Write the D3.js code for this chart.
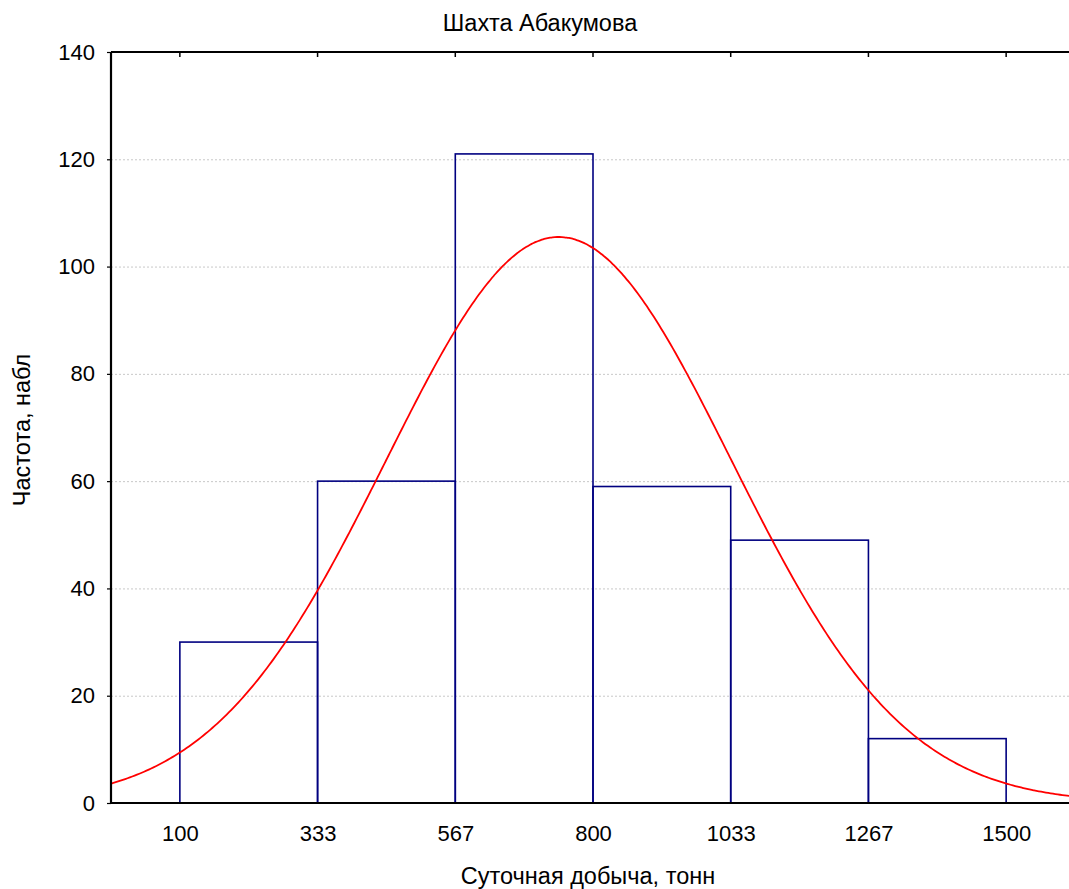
<!DOCTYPE html>
<html><head><meta charset="utf-8">
<script src="https://cdn.jsdelivr.net/npm/d3@7"></script>
<style>body{margin:0;background:#fff}svg{display:block}text{font-family:"Liberation Sans",Arial,sans-serif;fill:#000}</style>
</head><body><svg id="c" width="1069" height="889"></svg>
<script>
const binStarts = [100, 333.33, 566.67, 800, 1033.33, 1266.67];
const binEnds   = [333.33, 566.67, 800, 1033.33, 1266.67, 1500];
const counts    = [30, 60, 121, 59, 49, 12];
const xTicks    = [100, 333.33, 566.67, 800, 1033.33, 1266.67, 1500];
const xTickLabels = ["100", "333", "567", "800", "1033", "1267", "1500"];
const yTicks    = [0, 20, 40, 60, 80, 100, 120, 140];
const fitMean = 742, fitSigma = 292;
const title = "Шахта Абакумова", xTitle = "Суточная добыча, тонн", yTitle = "Частота, набл";

const FS = "22px", FT = "23.5px";
const svg = d3.select("#c");
const L = 111, T = 52, B = 803, R = 1075;
const x = d3.scaleLinear().domain([-16.67, 1616.67]).range([L, R]);
const y = d3.scaleLinear().domain([0, 140]).range([B, T]);

// grid
svg.append("g").selectAll("line").data(yTicks.filter(v => v > 0 && v < 140)).join("line")
  .attr("x1", L).attr("x2", 1069).attr("y1", d => y(d) + 0.5).attr("y2", d => y(d) + 0.5)
  .attr("stroke", "#c8c8c8").attr("stroke-width", 1).attr("stroke-dasharray", "2,2");

// bars
const N = d3.sum(counts);
const bw = binEnds[0] - binStarts[0];
svg.append("g").selectAll("rect").data(counts).join("rect")
  .attr("x", (d, i) => x(binStarts[i])).attr("y", d => y(d))
  .attr("width", (d, i) => x(binEnds[i]) - x(binStarts[i])).attr("height", d => y(0) - y(d))
  .attr("fill", "none").attr("stroke", "#000080").attr("stroke-width", 1.6);

// normal fit curve
const xs = d3.range(-16.67, 1616.67, 4);
const pdf = v => N * bw * Math.exp(-0.5 * ((v - fitMean) / fitSigma) ** 2) / (fitSigma * Math.sqrt(2 * Math.PI));
svg.append("path").datum(xs).attr("fill", "none").attr("stroke", "#ff0000").attr("stroke-width", 1.8)
  .attr("d", d3.line().x(d => x(d)).y(d => y(pdf(d))).curve(d3.curveBasis));

// axes
const ax = svg.append("g").attr("transform", `translate(0,${B})`)
  .call(d3.axisBottom(x).tickValues(xTicks).tickFormat((d, i) => xTickLabels[i]).tickSize(0).tickPadding(22));
ax.select(".domain").attr("stroke", "#000").attr("stroke-width", 2.2).attr("d", `M${L},0H1069`);
ax.selectAll("text").style("font-size", FS).style("font-family", '"Liberation Sans",Arial,sans-serif');

const ay = svg.append("g").attr("transform", `translate(${L},0)`)
  .call(d3.axisLeft(y).tickValues(yTicks).tickSize(4).tickPadding(12));
ay.select(".domain").attr("stroke", "#000").attr("stroke-width", 2.2).attr("d", `M0,${B}V${T}`);
ay.selectAll("line").attr("stroke", "#000").attr("stroke-width", 1.2);
ay.selectAll("text").style("font-size", FS).style("font-family", '"Liberation Sans",Arial,sans-serif');

// top border with inward ticks
svg.append("line").attr("x1", L).attr("x2", 1069).attr("y1", T).attr("y2", T).attr("stroke", "#000").attr("stroke-width", 2.2);
svg.append("g").selectAll("line").data(xTicks).join("line")
  .attr("x1", d => x(d)).attr("x2", d => x(d)).attr("y1", T).attr("y2", T + 5)
  .attr("stroke", "#000").attr("stroke-width", 1.5);

// titles
svg.append("text").attr("x", 540).attr("y", 31).attr("text-anchor", "middle").style("font-size", FT).text(title);
svg.append("text").attr("x", 588).attr("y", 884).attr("text-anchor", "middle").style("font-size", FT).text(xTitle);
svg.append("text").attr("transform", "translate(30,430) rotate(-90)").attr("text-anchor", "middle").style("font-size", FT).text(yTitle);
</script></body></html>
